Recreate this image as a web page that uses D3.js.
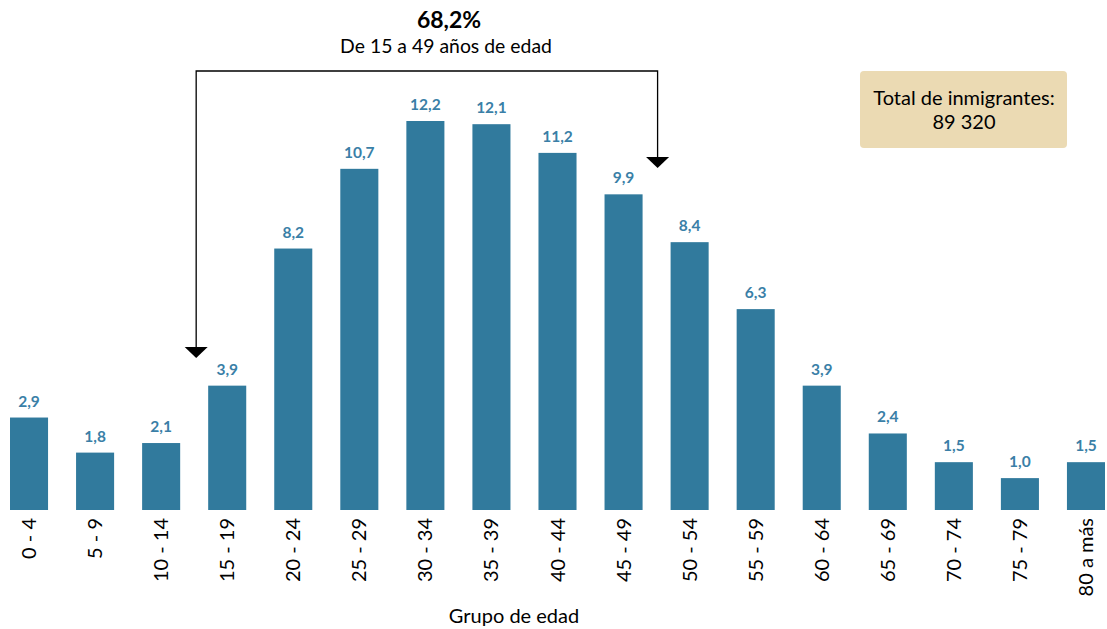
<!DOCTYPE html>
<html><head><meta charset="utf-8">
<script src="https://cdn.jsdelivr.net/npm/d3@7"></script>
<style>body{margin:0;background:#fff}svg{display:block}text{font-family:Lato,"Open Sans",sans-serif}</style>
</head><body><svg id="c" width="1107" height="629"></svg>
<script>
const categories = ["0 - 4","5 - 9","10 - 14","15 - 19","20 - 24","25 - 29","30 - 34","35 - 39","40 - 44","45 - 49","50 - 54","55 - 59","60 - 64","65 - 69","70 - 74","75 - 79","80 a más"];
const values = [2.9,1.8,2.1,3.9,8.2,10.7,12.2,12.1,11.2,9.9,8.4,6.3,3.9,2.4,1.5,1.0,1.5];
const bracketFrom = "15 - 19", bracketTo = "45 - 49";
const bracketPct = "68,2%", bracketText = "De 15 a 49 años de edad";
const totalLines = ["Total de inmigrantes:", "89 320"];
const xTitle = "Grupo de edad";

const svg = d3.select("#c");
const fmt = v => d3.format(".1f")(v).replace(".", ",");
const x = d3.scaleBand().domain(categories).range([-4, 1119]).paddingInner(0.424).paddingOuter(0.212);
const y = d3.scaleLinear().domain([0, 12.2]).range([510, 121]);
const barColor = "#317a9d", labColor = "#3a7fa7";

svg.selectAll("rect.bar").data(values).join("rect").attr("class","bar")
  .attr("x",(d,i)=>x(categories[i])).attr("width",x.bandwidth())
  .attr("y",d=>y(d)).attr("height",d=>y(0)-y(d)).attr("fill",barColor);

svg.selectAll("text.val").data(values).join("text").attr("class","val")
  .attr("x",(d,i)=>x(categories[i])+x.bandwidth()/2).attr("y",d=>y(d)-11)
  .attr("text-anchor","middle").attr("font-size",15.5).attr("font-weight","bold")
  .attr("fill",labColor).text(fmt);

const xAxis = svg.append("g").attr("transform","translate(0,510)")
  .call(d3.axisBottom(x).tickSize(0).tickPadding(0));
xAxis.select(".domain").remove();
xAxis.selectAll("text").attr("font-size",20).attr("fill","#000")
  .attr("font-family","Lato,sans-serif")
  .attr("transform","rotate(-90)").attr("text-anchor","end")
  .attr("x",-8).attr("y",0).attr("dy","0.35em");

svg.append("text").attr("x",514).attr("y",623).attr("text-anchor","middle")
  .attr("font-size",20).text(xTitle);

// bracket
const step = x.step();
const xl = x(bracketFrom) + x.bandwidth()/2 - step/2 + 2;
const xr = x(bracketTo) + x.bandwidth()/2 + step/2 + 1;
const topY = 71;
const leftTip = 358, rightTip = 168, ah = 11, aw = 11.5;
svg.append("path").attr("fill","none").attr("stroke","#000").attr("stroke-width",1.3)
  .attr("d",`M${xl},${leftTip-ah}V${topY}H${xr}V${rightTip-ah}`);
[[xl,leftTip],[xr,rightTip]].forEach(([cx,tip])=>{
  svg.append("path").attr("fill","#000")
    .attr("d",`M${cx-aw},${tip-ah}L${cx+aw},${tip-ah}L${cx},${tip}Z`);
});
svg.append("text").attr("x",449).attr("y",28).attr("text-anchor","middle")
  .attr("font-size",23).attr("font-weight","bold").text(bracketPct);
svg.append("text").attr("x",446).attr("y",53).attr("text-anchor","middle")
  .attr("font-size",19.4).text(bracketText);

// total box
svg.append("rect").attr("x",860).attr("y",71).attr("width",207).attr("height",77)
  .attr("rx",4).attr("fill","#ebdab3");
totalLines.forEach((t,i)=>svg.append("text").attr("x",964).attr("y",105+i*24)
  .attr("text-anchor","middle").attr("font-size",20).text(t));
</script></body></html>
